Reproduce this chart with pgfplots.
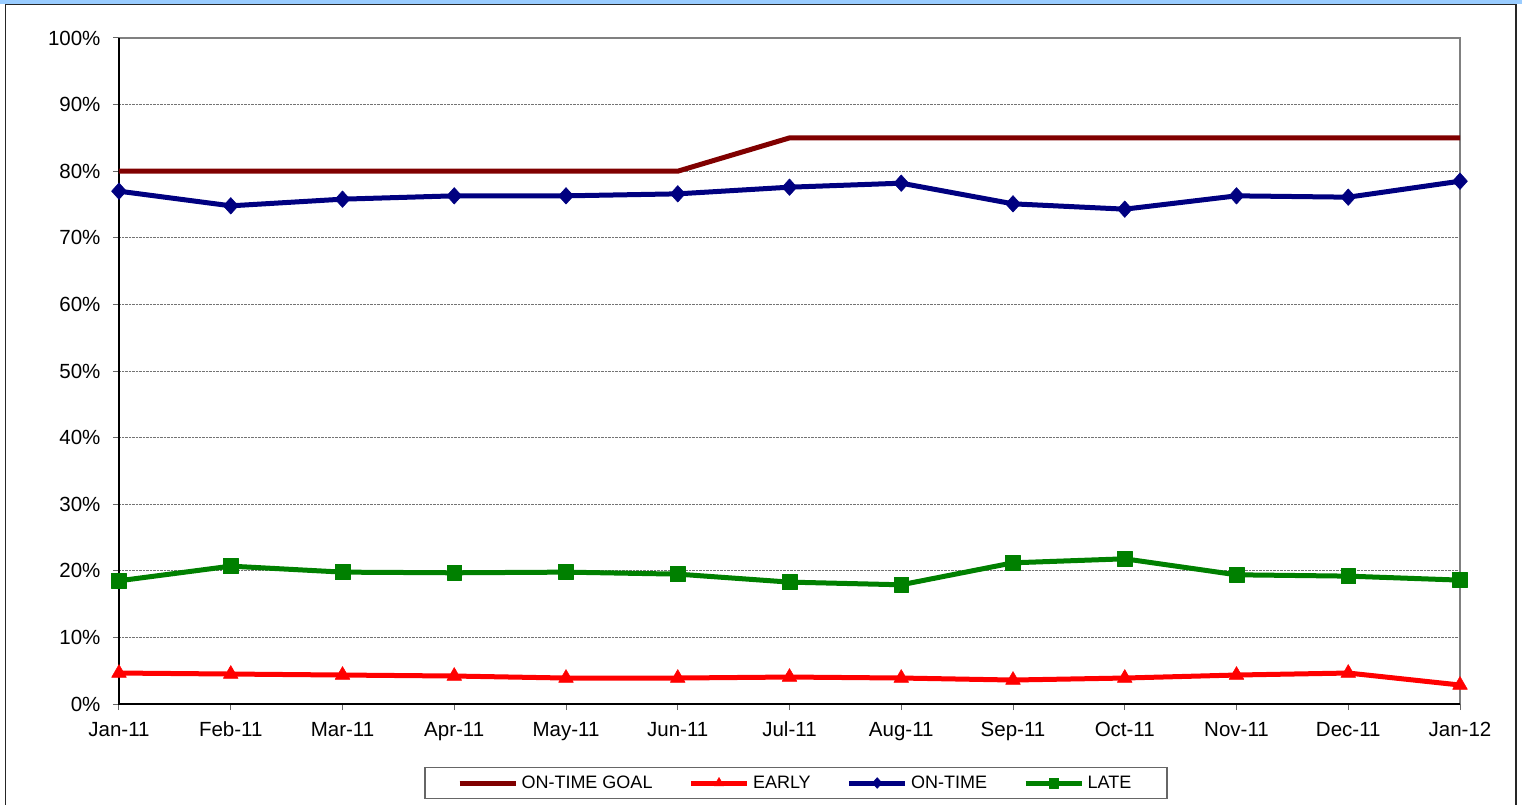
\documentclass[border=0pt]{standalone}
\usepackage{pgfplots}
\pgfplotsset{compat=1.18}
\usetikzlibrary{calc}
\usepackage{fontspec}
\setmainfont{Liberation Sans}
\definecolor{goal}{HTML}{800000}
\definecolor{early}{HTML}{FF0000}
\definecolor{ontime}{HTML}{000080}
\definecolor{late}{HTML}{008000}
\definecolor{band}{HTML}{99CCFF}
\begin{document}
\begin{tikzpicture}[x=1pt,y=1pt]
\begin{axis}[
  name=ax,
  scale only axis, width=1341pt, height=666pt,
  xmin=0, xmax=12, ymin=0, ymax=100,
  clip=false,
  axis line style={draw=none},
  xtick={0,...,12},
  xticklabels={Jan-11,Feb-11,Mar-11,Apr-11,May-11,Jun-11,Jul-11,Aug-11,Sep-11,Oct-11,Nov-11,Dec-11,Jan-12},
  ytick={0,10,20,30,40,50,60,70,80,90},
  yticklabels={0\%,10\%,20\%,30\%,40\%,50\%,60\%,70\%,80\%,90\%},
  extra y ticks={100}, extra y tick labels={100\%}, extra y tick style={grid=none},
  ymajorgrids, major grid style={densely dotted, black!55, line width=0.8pt},
  tick align=outside, major tick length=6pt, tick style={black!60, line width=1pt},
  xtick pos=bottom, ytick pos=left,
  ticklabel style={font=\fontsize{20.5}{24}\selectfont},
  yticklabel style={xshift=-9pt},
  xticklabel style={text height=15pt, text depth=0pt, yshift=-8pt},
  legend columns=4,
  legend style={at={(0.5048,-0.1186)}, anchor=center, draw=black!60, line width=1.5pt,
    font=\fontsize{18}{21}\selectfont, inner xsep=32pt, inner ysep=6.5pt,
    nodes={inner xsep=3.5pt},
    /tikz/every even column/.append style={column sep=32.5pt},
    /tikz/every odd column/.append style={column sep=0pt}},
  legend image code/.code={
    \draw[mark repeat=2, mark phase=2, /tikz/every mark/.append style={scale=0.65}]
      plot coordinates {(0pt,0pt) (28pt,0pt) (56pt,0pt)};
  },
]
\draw[black!50, line width=2.7pt] (rel axis cs:0,1) -- (rel axis cs:1,1) -- (rel axis cs:1,0);
\draw[black, line width=1.3pt] (rel axis cs:0,1) -- (rel axis cs:0,0) -- (rel axis cs:1,0);

\addplot[goal, line width=5pt, line join=round, mark=none] coordinates {
(0,80)(1,80)(2,80)(3,80)(4,80)(5,80)(6,85)(7,85)(8,85)(9,85)(10,85)(11,85)(12,85)};
\addlegendentry{ON-TIME GOAL}

\addplot[early, line width=5pt, line join=round, mark=triangle*, mark size=8.5pt, mark options={line width=0.5pt}] coordinates {
(0,4.65)(1,4.5)(2,4.35)(3,4.2)(4,3.9)(5,3.9)(6,4.05)(7,3.9)(8,3.6)(9,3.9)(10,4.35)(11,4.65)(12,2.85)};
\addlegendentry{EARLY}

\addplot[ontime, line width=5pt, line join=round, mark=diamond*, mark size=8.3pt, mark options={line width=0.5pt, xscale=1.2}] coordinates {
(0,77.0)(1,74.8)(2,75.8)(3,76.3)(4,76.3)(5,76.6)(6,77.6)(7,78.2)(8,75.1)(9,74.3)(10,76.3)(11,76.1)(12,78.5)};
\addlegendentry{ON-TIME}

\addplot[late, line width=5pt, line join=round, mark=square*, mark size=7.4pt, mark options={line width=0.5pt}] coordinates {
(0,18.5)(1,20.7)(2,19.8)(3,19.7)(4,19.8)(5,19.5)(6,18.3)(7,17.9)(8,21.2)(9,21.8)(10,19.4)(11,19.2)(12,18.6)};
\addlegendentry{LATE}
\end{axis}
\coordinate (O) at ($(ax.south west)+(-119,-100)$);
\fill[band] ($(O)+(0,799.5)$) rectangle ($(O)+(1522,804)$);
\draw[line width=1.5pt, black!85] ($(O)+(5.7,-5)$) -- ($(O)+(5.7,799.3)$) -- ($(O)+(1516,799.3)$) -- ($(O)+(1516,-5)$);
\pgfresetboundingbox
\path[use as bounding box] (O) rectangle ($(O)+(1522,804)$);
\end{tikzpicture}
\end{document}
